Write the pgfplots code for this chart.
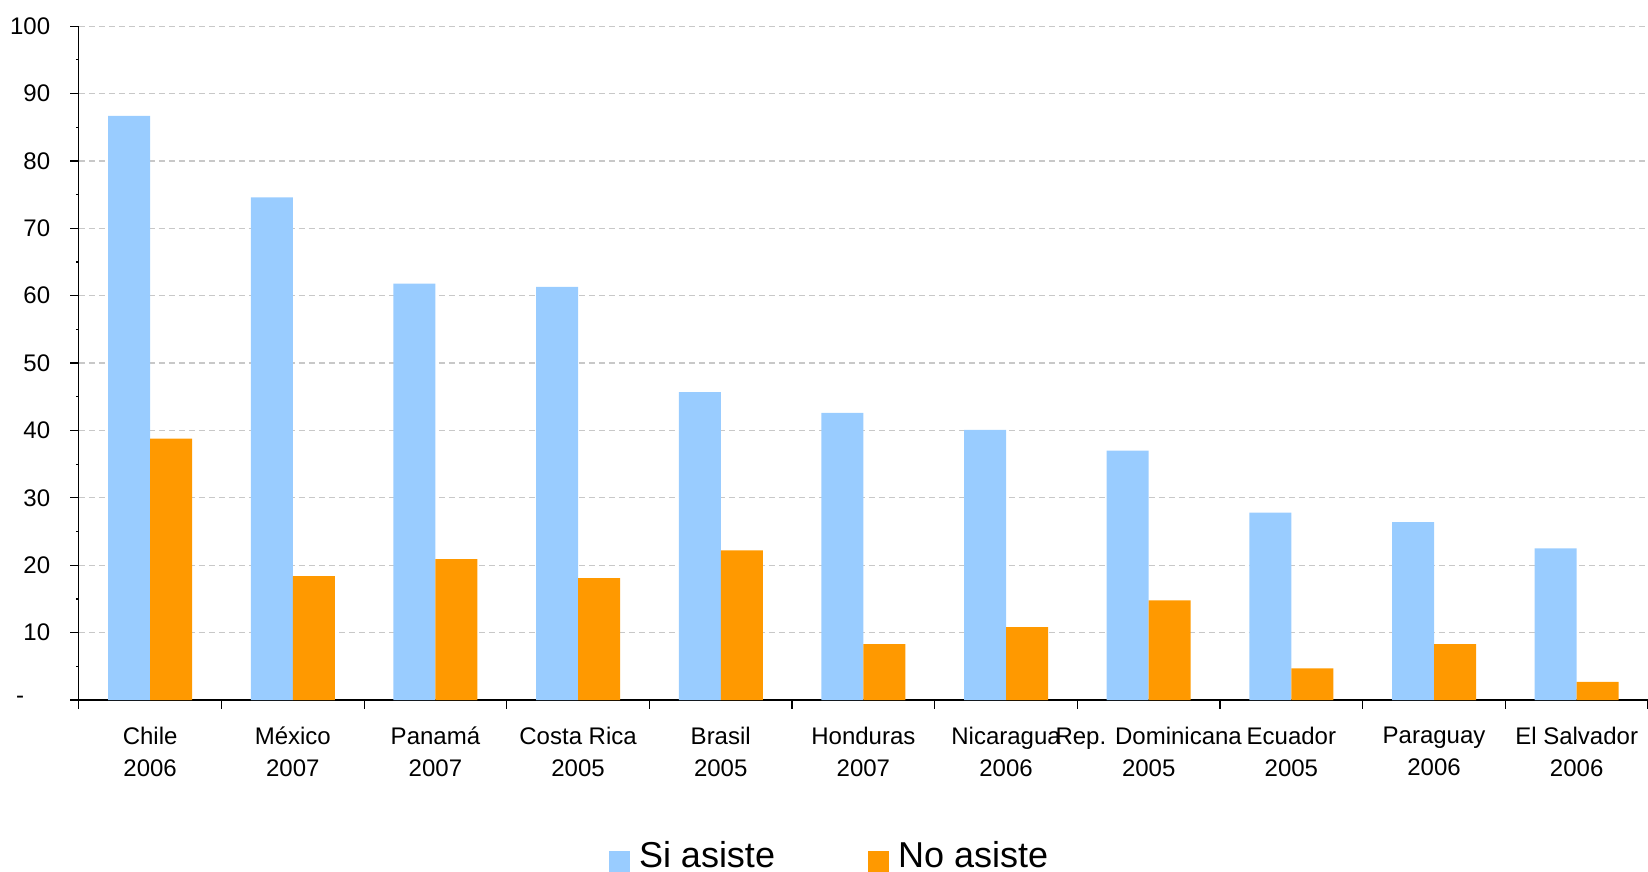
\documentclass[border=0pt]{standalone}
\usepackage{fontspec}
\setmainfont{Liberation Sans}
\usepackage{pgfplots}
\pgfplotsset{compat=1.18}

\definecolor{siasiste}{HTML}{99CCFF}
\definecolor{noasiste}{HTML}{FF9900}
\definecolor{gridgray}{HTML}{C8C8C8}

\begin{document}
\begin{tikzpicture}
\useasboundingbox (0,0) rectangle (824pt,436pt);
\begin{axis}[
  at={(39.4pt,86pt)}, anchor=south west,
  scale only axis,
  width=784.6pt, height=336.9pt,
  ybar=0pt, bar width=21pt,
  xmin=-0.5, xmax=10.5,
  ymin=0, ymax=100,
  axis x line=bottom, axis y line=left,
  axis line style={black, line width=0.6pt, -},
  % category boundaries carry the ticks, names sit between them
  xtick={-0.5,0.5,...,10.5},
  x tick label as interval,
  xticklabels={{Chile\\2006},{México\\2007},{Panamá\\2007},{Costa Rica\\2005},{Brasil\\2005},{Honduras\\2007},{Nicaragua\\2006},{Rep. Dominicana\\2005},{Ecuador\\2005},{Paraguay\\2006},{El Salvador\\2006}},
  x tick style={black, line width=0.6pt},
  xticklabel style={align=center, font=\fontsize{12}{16.3}\selectfont, anchor=north, yshift=-5.5pt},
  ytick={0,10,...,100},
  yticklabels={{\makebox[17pt][l]{-}},10,20,30,40,50,60,70,80,90,100},
  minor y tick num=1,
  y tick style={black, line width=0.6pt},
  major tick length=4.3pt, minor tick length=1.5pt,
  tick align=outside,
  yticklabel style={font=\fontsize{12}{14}\selectfont, xshift=-6.5pt},
  /pgf/number format/assume math mode=true,
  ymajorgrids,
  major grid style={gridgray, dash pattern=on 3pt off 2pt, line width=0.6pt},
  legend style={draw=none, fill=none, legend columns=2,
    at={(0.4778,-0.2565)}, anchor=south,
    inner sep=0pt,
    font=\fontsize{18}{20}\selectfont,
    /tikz/every even column/.append style={column sep=46.5pt},
    nodes={inner sep=0pt}},
  % square swatch sitting low beside the text, followed by a small gap
  legend image code/.code={%
    \fill[#1] (0pt,-8.2pt) rectangle (10.7pt,2.5pt);
    \path[fill=none, draw=none] (0pt,-8.2pt) rectangle (15pt,8.2pt);},
]
\addplot[fill=siasiste, draw=none] coordinates {
  (0,86.7) (1,74.6) (2,61.8) (3,61.3) (4,45.7) (5,42.6)
  (6,40.1) (7,37.0) (8,27.8) (9,26.4) (10,22.5)};
\addlegendentry{Si asiste}
\addplot[fill=noasiste, draw=none] coordinates {
  (0,38.8) (1,18.4) (2,20.9) (3,18.1) (4,22.2) (5,8.3)
  (6,10.8) (7,14.8) (8,4.7) (9,8.3) (10,2.7)};
\addlegendentry{No asiste}
\end{axis}
\end{tikzpicture}
\end{document}
